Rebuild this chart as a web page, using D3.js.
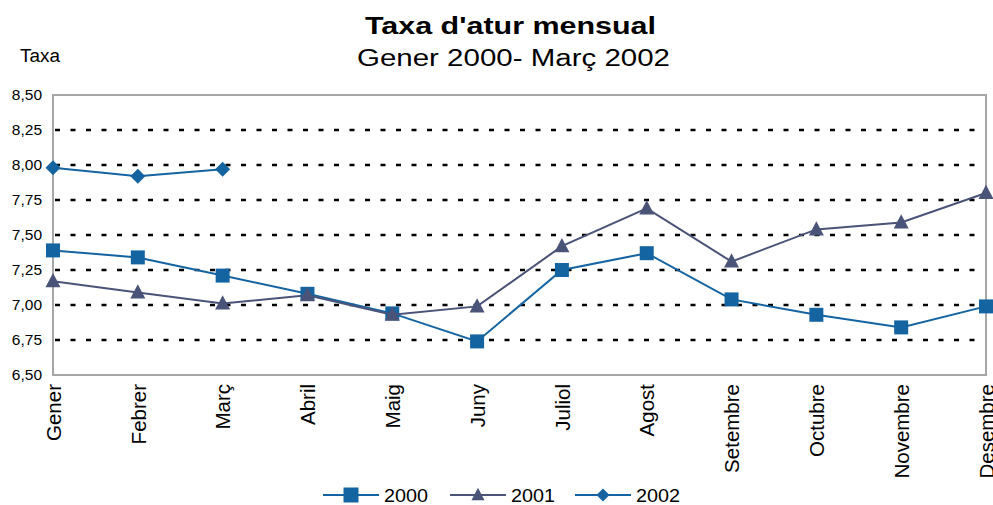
<!DOCTYPE html>
<html>
<head>
<meta charset="utf-8">
<script src="https://cdn.jsdelivr.net/npm/d3@7"></script>
<style>
  body { margin: 0; background: #fff; }
  text { font-family: "Liberation Sans", Arial, sans-serif; }
</style>
</head>
<body>
<div id="taxaAtur"></div>
<script>
// categories and values
var mesos = ["Gener","Febrer","Març","Abril","Maig","Juny","Juliol",
             "Agost","Setembre","Octubre","Novembre","Desembre"];

var anys = ["2000","2001","2002"];

var taxa2000 = [7.39,7.34,7.21,7.08,6.94,6.74,7.25,7.37,7.04,6.93,6.84,6.99];
var taxa2001 = [7.17,7.09,7.01,7.07,6.93,6.99,7.42,7.69,7.31,7.54,7.59,7.80];
var taxa2002 = [7.98,7.92,7.97];

var yTicks = [6.50,6.75,7.00,7.25,7.50,7.75,8.00,8.25,8.50];

var titol = "Taxa d'atur mensual";
var subtitol = "Gener 2000- Març 2002";

//  sizes
var W = 993, H = 505;
var margin = {top: 95, right: 7, bottom: 130, left: 53};
var width = W - margin.left - margin.right;
var height = H - margin.top - margin.bottom;

var blau = "#1464a2";
var gris = "#4a5378";

var series = [
  {name: anys[0], values: taxa2000, color: blau, marker: "square"},
  {name: anys[1], values: taxa2001, color: gris, marker: "triangle"},
  {name: anys[2], values: taxa2002, color: blau, marker: "diamond"}
];

var svg = d3.select("#taxaAtur")
  .append("svg")
    .attr("width", W)
    .attr("height", H);

var x = d3.scalePoint()
  .domain(mesos)
  .range([margin.left, margin.left + width]);

var y = d3.scaleLinear()
  .domain([6.5, 8.5])
  .range([margin.top + height, margin.top]);

var cat = d3.formatLocale({decimal: ",", thousands: ".", grouping: [3], currency: ["", "€"]});
var fmt = cat.format(".2f");

// titles (stretched wide like the original)
svg.append("text")
  .attr("x", 365).attr("y", 34)
  .attr("textLength", 291)
  .attr("lengthAdjust", "spacingAndGlyphs")
  .style("font-size", "23px")
  .style("font-weight", "bold")
  .text(titol);

svg.append("text")
  .attr("x", 357).attr("y", 66)
  .attr("textLength", 313)
  .attr("lengthAdjust", "spacingAndGlyphs")
  .style("font-size", "23px")
  .text(subtitol);

svg.append("text")
  .attr("x", 20).attr("y", 62)
  .attr("textLength", 40)
  .attr("lengthAdjust", "spacingAndGlyphs")
  .style("font-size", "18px")
  .text("Taxa");

// dotted grid
svg.append("g")
  .selectAll("line")
  .data(yTicks.filter(function(d){ return d > 6.5 && d < 8.5; }))
  .enter()
  .append("line")
    .attr("x1", margin.left + 2)
    .attr("x2", margin.left + width)
    .attr("y1", function(d){ return y(d); })
    .attr("y2", function(d){ return y(d); })
    .attr("stroke", "#000")
    .attr("stroke-width", 2.5)
    .attr("stroke-dasharray", "5,10.5");

// plot border
svg.append("rect")
  .attr("x", margin.left)
  .attr("y", margin.top)
  .attr("width", width)
  .attr("height", height)
  .attr("fill", "none")
  .attr("stroke", "#a6a6a6")
  .attr("stroke-width", 2);

// y axis labels
var yAxis = svg.append("g")
  .attr("transform", "translate(" + (margin.left - 11) + ",0)")
  .call(d3.axisLeft(y).tickValues(yTicks).tickFormat(fmt).tickSize(0));
yAxis.select(".domain").remove();
yAxis.selectAll("text")
  .attr("x", 0)
  .style("font-size", "15.5px")
  .style("font-family", "'Liberation Sans', Arial, sans-serif")
  .attr("fill", "#000");

// x axis labels, rotated
var xAxis = svg.append("g")
  .attr("transform", "translate(0," + (margin.top + height) + ")")
  .call(d3.axisBottom(x).tickSize(0));
xAxis.select(".domain").remove();
xAxis.selectAll("text")
  .attr("y", 0)
  .attr("x", -9)
  .attr("dy", "0.35em")
  .attr("transform", "rotate(-90)")
  .style("text-anchor", "end")
  .style("font-size", "20.5px")
  .style("font-family", "'Liberation Sans', Arial, sans-serif")
  .attr("fill", "#000");

function markerPath(type, s) {
  if (type === "square") {
    return "M" + (-s/2) + "," + (-s/2) + "h" + s + "v" + s + "h" + (-s) + "Z";
  }
  if (type === "triangle") {
    return "M0," + (-s*0.55) + "L" + (s/2) + "," + (s*0.4) + "L" + (-s/2) + "," + (s*0.4) + "Z";
  }
  return "M0," + (-s/2) + "L" + (s/2) + ",0L0," + (s/2) + "L" + (-s/2) + ",0Z";
}
var markerSize = {square: 14, triangle: 15, diamond: 15};

var line = d3.line()
  .x(function(d, i){ return x(mesos[i]); })
  .y(function(d){ return y(d); });

series.forEach(function(s) {
  svg.append("path")
    .datum(s.values)
    .attr("d", line)
    .attr("fill", "none")
    .attr("stroke", s.color)
    .attr("stroke-width", 2);

  svg.append("g")
    .selectAll("path")
    .data(s.values)
    .enter()
    .append("path")
      .attr("transform", function(d, i){ return "translate(" + x(mesos[i]) + "," + y(d) + ")"; })
      .attr("d", markerPath(s.marker, markerSize[s.marker]))
      .attr("fill", s.color);
});

// legend
var legX = [323, 450, 575];
var legend = svg.append("g")
  .selectAll("g")
  .data(series)
  .enter()
  .append("g")
    .attr("transform", function(d, i){ return "translate(" + legX[i] + ",495)"; });

legend.append("line")
  .attr("x1", 0).attr("x2", 56)
  .attr("stroke", function(d){ return d.color; })
  .attr("stroke-width", 2);

legend.append("path")
  .attr("transform", "translate(28,0)")
  .attr("d", function(d){ return markerPath(d.marker, d.marker === "square" ? 15 : 13); })
  .attr("fill", function(d){ return d.color; });

legend.append("text")
  .attr("x", 61)
  .attr("dy", "0.36em")
  .attr("textLength", 44)
  .attr("lengthAdjust", "spacingAndGlyphs")
  .style("font-size", "19px")
  .text(function(d){ return d.name; });
</script>
</body>
</html>
